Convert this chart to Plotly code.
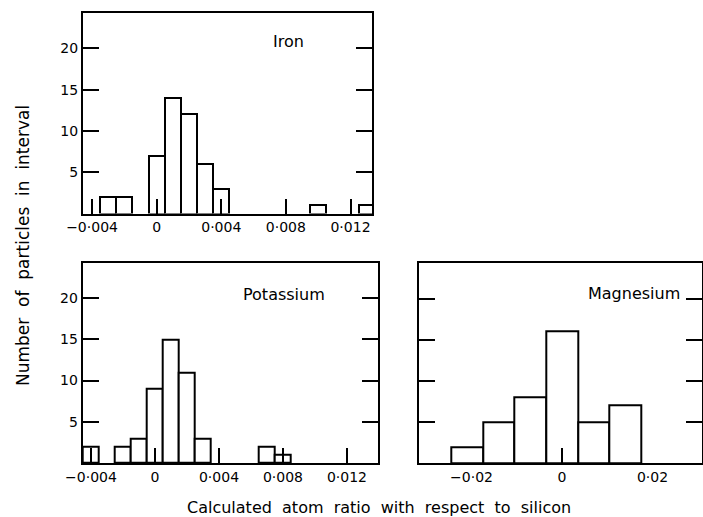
import plotly.graph_objects as go

# ---- data ----
iron_centers = [-0.003, -0.002, 0.0, 0.001, 0.002, 0.003, 0.004, 0.010, 0.013]
iron_counts = [2, 2, 7, 14, 12, 6, 3, 1, 1]

potassium_centers = [-0.004, -0.002, -0.001, 0.0, 0.001, 0.002, 0.003, 0.007, 0.008]
potassium_counts = [2, 2, 3, 9, 15, 11, 3, 2, 1]

magnesium_centers = [-0.021, -0.014, -0.007, 0.0, 0.007, 0.014]
magnesium_counts = [2, 5, 8, 16, 5, 7]

small_tickvals = [-0.004, 0.0, 0.004, 0.008, 0.012]
small_ticktext = ["−0·004", "0", "0·004", "0·008", "0·012"]
mg_tickvals = [-0.02, 0.0, 0.02]
mg_ticktext = ["−0·02", "0", "0·02"]
y_tickvals = [5, 10, 15, 20]
y_ticktext = ["5", "10", "15", "20"]

FONT = "DejaVu Sans"
W, H = 703, 517

def px(v, total):
    return v / total

fig = go.Figure()

bar_style = dict(marker=dict(color="white", line=dict(color="black", width=2)), showlegend=False, hoverinfo="skip")
fig.add_trace(go.Bar(x=iron_centers, y=iron_counts, width=0.001, xaxis="x", yaxis="y", **bar_style))
fig.add_trace(go.Bar(x=potassium_centers, y=potassium_counts, width=0.001, xaxis="x2", yaxis="y2", **bar_style))
fig.add_trace(go.Bar(x=magnesium_centers, y=magnesium_counts, width=0.007, xaxis="x3", yaxis="y3", **bar_style))

common_x = dict(showgrid=False, zeroline=False, showline=True, linecolor="black", linewidth=2,
                mirror=True, ticks="inside", ticklen=15, tickwidth=1.5, tickcolor="black",
                tickfont=dict(family=FONT, size=14, color="black"), tickmode="array", automargin=False)
common_y = dict(showgrid=False, zeroline=False, showline=True, linecolor="black", linewidth=2,
                mirror="ticks", ticks="inside", ticklen=16, tickwidth=1.5, tickcolor="black",
                tickfont=dict(family=FONT, size=14, color="black"), tickmode="array",
                tickvals=y_tickvals, range=[0, 24.3], automargin=False)

fig.update_layout(
    template="none",
    width=W, height=H, margin=dict(l=0, r=0, t=0, b=0, autoexpand=False),
    paper_bgcolor="white", plot_bgcolor="white", bargap=0,
    xaxis=dict(common_x, domain=[px(83, W), px(372, W)], range=[-0.00456, 0.01333],
               tickvals=small_tickvals, ticktext=small_ticktext, anchor="y"),
    yaxis=dict(common_y, domain=[1 - px(213.5, H), 1 - px(13, H)], ticktext=y_ticktext, anchor="x"),
    xaxis2=dict(common_x, domain=[px(82.7, W), px(377.7, W)], range=[-0.00452, 0.01392],
                tickvals=small_tickvals, ticktext=small_ticktext, anchor="y2"),
    yaxis2=dict(common_y, domain=[1 - px(463, H), 1 - px(262.7, H)], ticktext=y_ticktext, anchor="x2"),
    xaxis3=dict(common_x, domain=[px(419.3, W), 0.999], range=[-0.03154, 0.03100],
                tickvals=mg_tickvals, ticktext=mg_ticktext, ticklen=0,
                minor=dict(tickmode="array", tickvals=[0.0], ticks="inside", ticklen=15,
                           tickwidth=1.5, tickcolor="black"),
                anchor="y3"),
    yaxis3=dict(common_y, domain=[1 - px(463.3, H), 1 - px(263.3, H)], showticklabels=False, anchor="x3"),
)

label_font = dict(family=FONT, size=16, color="black")
fig.add_annotation(text="Iron", x=0.00819, y=20.8, xref="x", yref="y", showarrow=False, font=label_font)
fig.add_annotation(text="Potassium", x=0.00806, y=20.5, xref="x2", yref="y2", showarrow=False, font=label_font)
fig.add_annotation(text="Magnesium", x=0.0160, y=20.6, xref="x3", yref="y3", showarrow=False, font=label_font)

fig.add_annotation(text="Number  of  particles  in  interval", x=px(23, W), y=1 - px(246, H),
                   xref="paper", yref="paper", xanchor="center", yanchor="middle",
                   showarrow=False, textangle=-90,
                   font=dict(family=FONT, size=17, color="black"))
fig.add_annotation(text="Calculated  atom  ratio  with  respect  to  silicon", x=px(379, W), y=1 - px(508, H),
                   xref="paper", yref="paper", xanchor="center", yanchor="middle", showarrow=False,
                   font=dict(family=FONT, size=16, color="black"))

fig.write_html("out.html")
